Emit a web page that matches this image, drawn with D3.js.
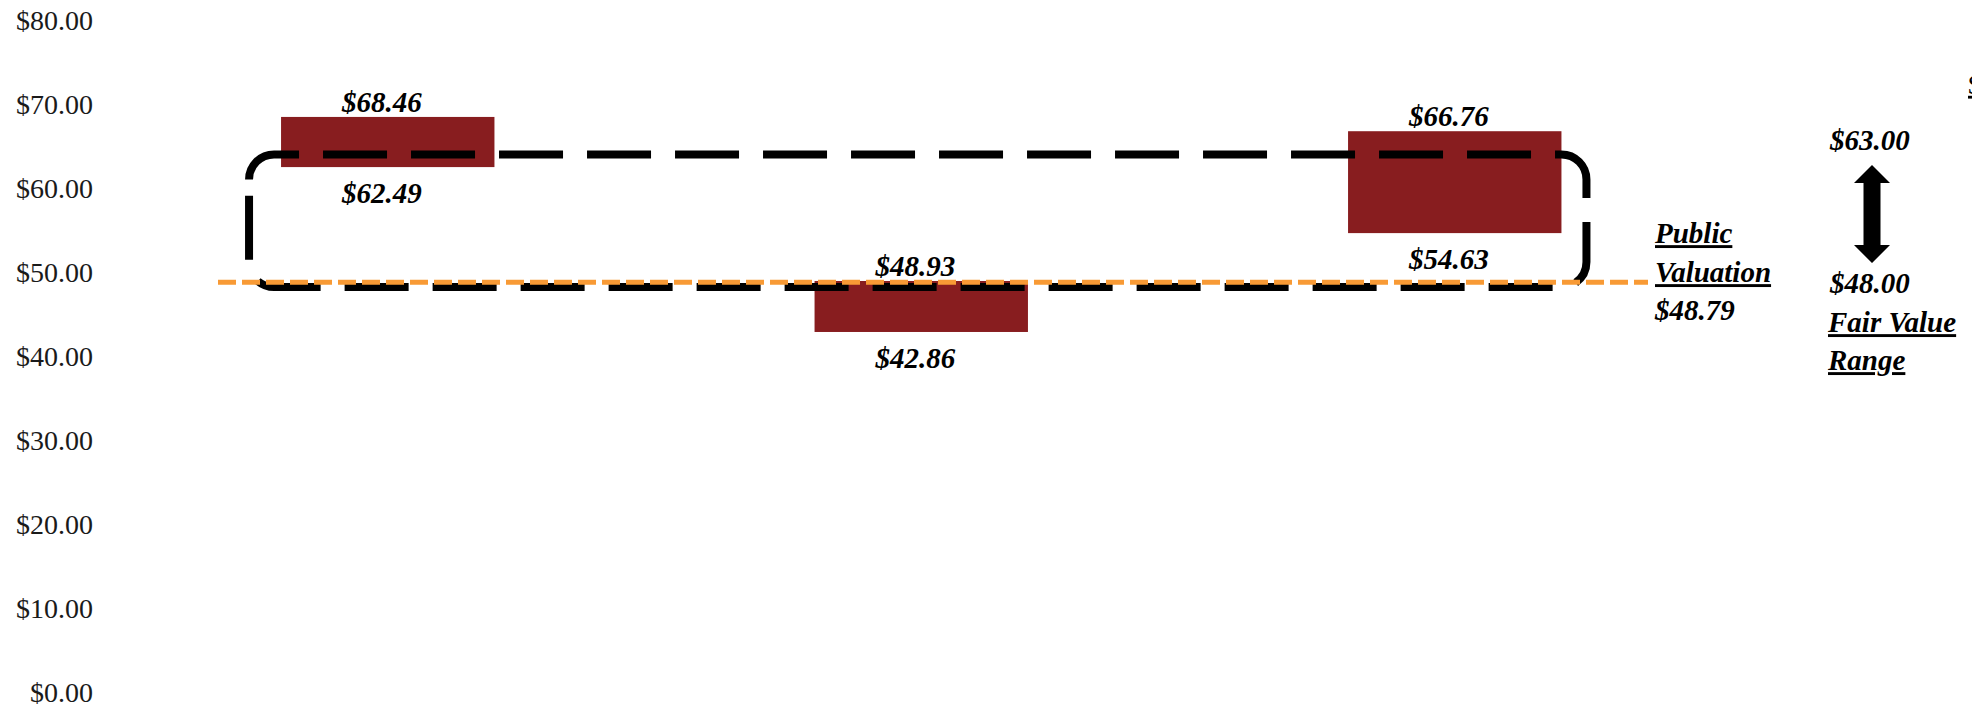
<!DOCTYPE html>
<html>
<head>
<meta charset="utf-8">
<script src="https://cdn.jsdelivr.net/npm/d3@7"></script>
<style>
  html, body { margin: 0; padding: 0; background: #fff; overflow: hidden; }
  svg { display: block; }
  .val { font-family: "Liberation Serif", "Times New Roman", serif; font-weight: bold; font-style: italic; font-size: 29px; fill: #000; }
  .axis text { font-family: "Liberation Serif", "Times New Roman", serif; font-size: 28px; fill: #1a1a1a; }
  .u { text-decoration: underline; }
</style>
</head>
<body>
<svg id="chart" width="1972" height="708"></svg>
<script>
// Valuation methods (floating bars: low / high share price)
const methods = ["Comparable Companies", "Precedent Transactions", "Discounted Cash Flow"];
const lowValues = [62.49, 42.86, 54.63];
const highValues = [68.46, 48.93, 66.76];

// Reference levels
const publicValuation = 48.79;
const fairValueLow = 48.00;
const fairValueHigh = 63.00;

// Outline around the fair value zone (share price bounds)
const zoneBounds = [48.2, 64.0];

// Axis ticks
const yTicks = [0, 10, 20, 30, 40, 50, 60, 70, 80];

const W = 1972, H = 708;
const svg = d3.select("#chart");

const y = d3.scaleLinear().domain([0, 80]).range([692, 20]);
const x = d3.scaleBand().domain(methods).range([121, 1721.5]).paddingInner(0.6).paddingOuter(0.3);
const fmt = v => "$" + d3.format(".2f")(v);

// Y axis: labels only
const axis = svg.append("g").attr("class", "axis").attr("transform", "translate(93,0)")
  .call(d3.axisLeft(y).tickValues(yTicks).tickSize(0).tickPadding(0).tickFormat(fmt));
axis.select(".domain").remove();
axis.selectAll("text").attr("dy", "0.35em");

// Floating bars
svg.append("g").selectAll("rect").data(methods).join("rect")
  .attr("x", d => x(d))
  .attr("width", x.bandwidth())
  .attr("y", (d, i) => y(highValues[i]))
  .attr("height", (d, i) => y(lowValues[i]) - y(highValues[i]))
  .attr("fill", "#881d1f");

// Dashed rounded outline around the fair value zone
const bx0 = x(methods[0]) - 32;
const bx1 = x(methods[2]) + x.bandwidth() + 25;
const by0 = y(zoneBounds[1]);
const by1 = y(zoneBounds[0]);
const r = 25;
const p = d3.path();
p.moveTo(bx0, by0 + r);
p.arcTo(bx0, by0, bx0 + r, by0, r);
p.lineTo(bx1 - r, by0);
p.arcTo(bx1, by0, bx1, by0 + r, r);
p.lineTo(bx1, by1 - r);
p.arcTo(bx1, by1, bx1 - r, by1, r);
p.lineTo(bx0 + r, by1);
p.arcTo(bx0, by1, bx0, by1 - r, r);
p.closePath();
svg.append("path").attr("d", p.toString())
  .attr("fill", "none").attr("stroke", "#000").attr("stroke-width", 8)
  .attr("stroke-dasharray", "64 24");

// Public valuation line
svg.append("line")
  .attr("x1", 218).attr("x2", 1648)
  .attr("y1", y(publicValuation)).attr("y2", y(publicValuation))
  .attr("stroke", "#f89a35").attr("stroke-width", 5)
  .attr("stroke-dasharray", "18 6");

// Bar value labels
const labels = svg.append("g");
methods.forEach((m, i) => {
  const cx = x(m) + x.bandwidth() / 2 - 6;
  labels.append("text").attr("class", "val").attr("x", cx).attr("y", y(highValues[i]) - 15)
    .attr("text-anchor", "middle").attr("dy", "0.35em").text(fmt(highValues[i]));
  labels.append("text").attr("class", "val").attr("x", cx).attr("y", y(lowValues[i]) + 26)
    .attr("text-anchor", "middle").attr("dy", "0.35em").text(fmt(lowValues[i]));
});

// Public valuation annotation
const pv = svg.append("g");
pv.append("text").attr("class", "val u").attr("x", 1655).attr("y", 233).attr("dy", "0.35em").text("Public");
pv.append("text").attr("class", "val u").attr("x", 1655).attr("y", 272).attr("dy", "0.35em").text("Valuation");
pv.append("text").attr("class", "val").attr("x", 1655).attr("y", 310).attr("dy", "0.35em").text(fmt(publicValuation));

// Fair value range annotation with double arrow
const fv = svg.append("g");
fv.append("text").attr("class", "val").attr("x", 1830).attr("y", 140).attr("dy", "0.35em").text(fmt(fairValueHigh));
fv.append("text").attr("class", "val").attr("x", 1830).attr("y", 283).attr("dy", "0.35em").text(fmt(fairValueLow));
fv.append("text").attr("class", "val u").attr("x", 1828).attr("y", 322).attr("dy", "0.35em").text("Fair Value");
fv.append("text").attr("class", "val u").attr("x", 1828).attr("y", 360).attr("dy", "0.35em").text("Range");

const ax = 1872, aTop = 165, aBot = 263, headW = 18, headH = 18, shaftW = 8.5;
const arrow = d3.path();
arrow.moveTo(ax, aTop);
arrow.lineTo(ax + headW, aTop + headH);
arrow.lineTo(ax + shaftW, aTop + headH);
arrow.lineTo(ax + shaftW, aBot - headH);
arrow.lineTo(ax + headW, aBot - headH);
arrow.lineTo(ax, aBot);
arrow.lineTo(ax - headW, aBot - headH);
arrow.lineTo(ax - shaftW, aBot - headH);
arrow.lineTo(ax - shaftW, aTop + headH);
arrow.lineTo(ax - headW, aTop + headH);
arrow.closePath();
fv.append("path").attr("d", arrow.toString()).attr("fill", "#000");

// Edge note at the right border
svg.append("text").attr("class", "u")
  .attr("x", 1968).attr("y", 84).attr("dy", "0.35em")
  .style("font-family", "'Liberation Serif', serif").style("font-size", "28px")
  .text("$");
</script>
</body>
</html>
